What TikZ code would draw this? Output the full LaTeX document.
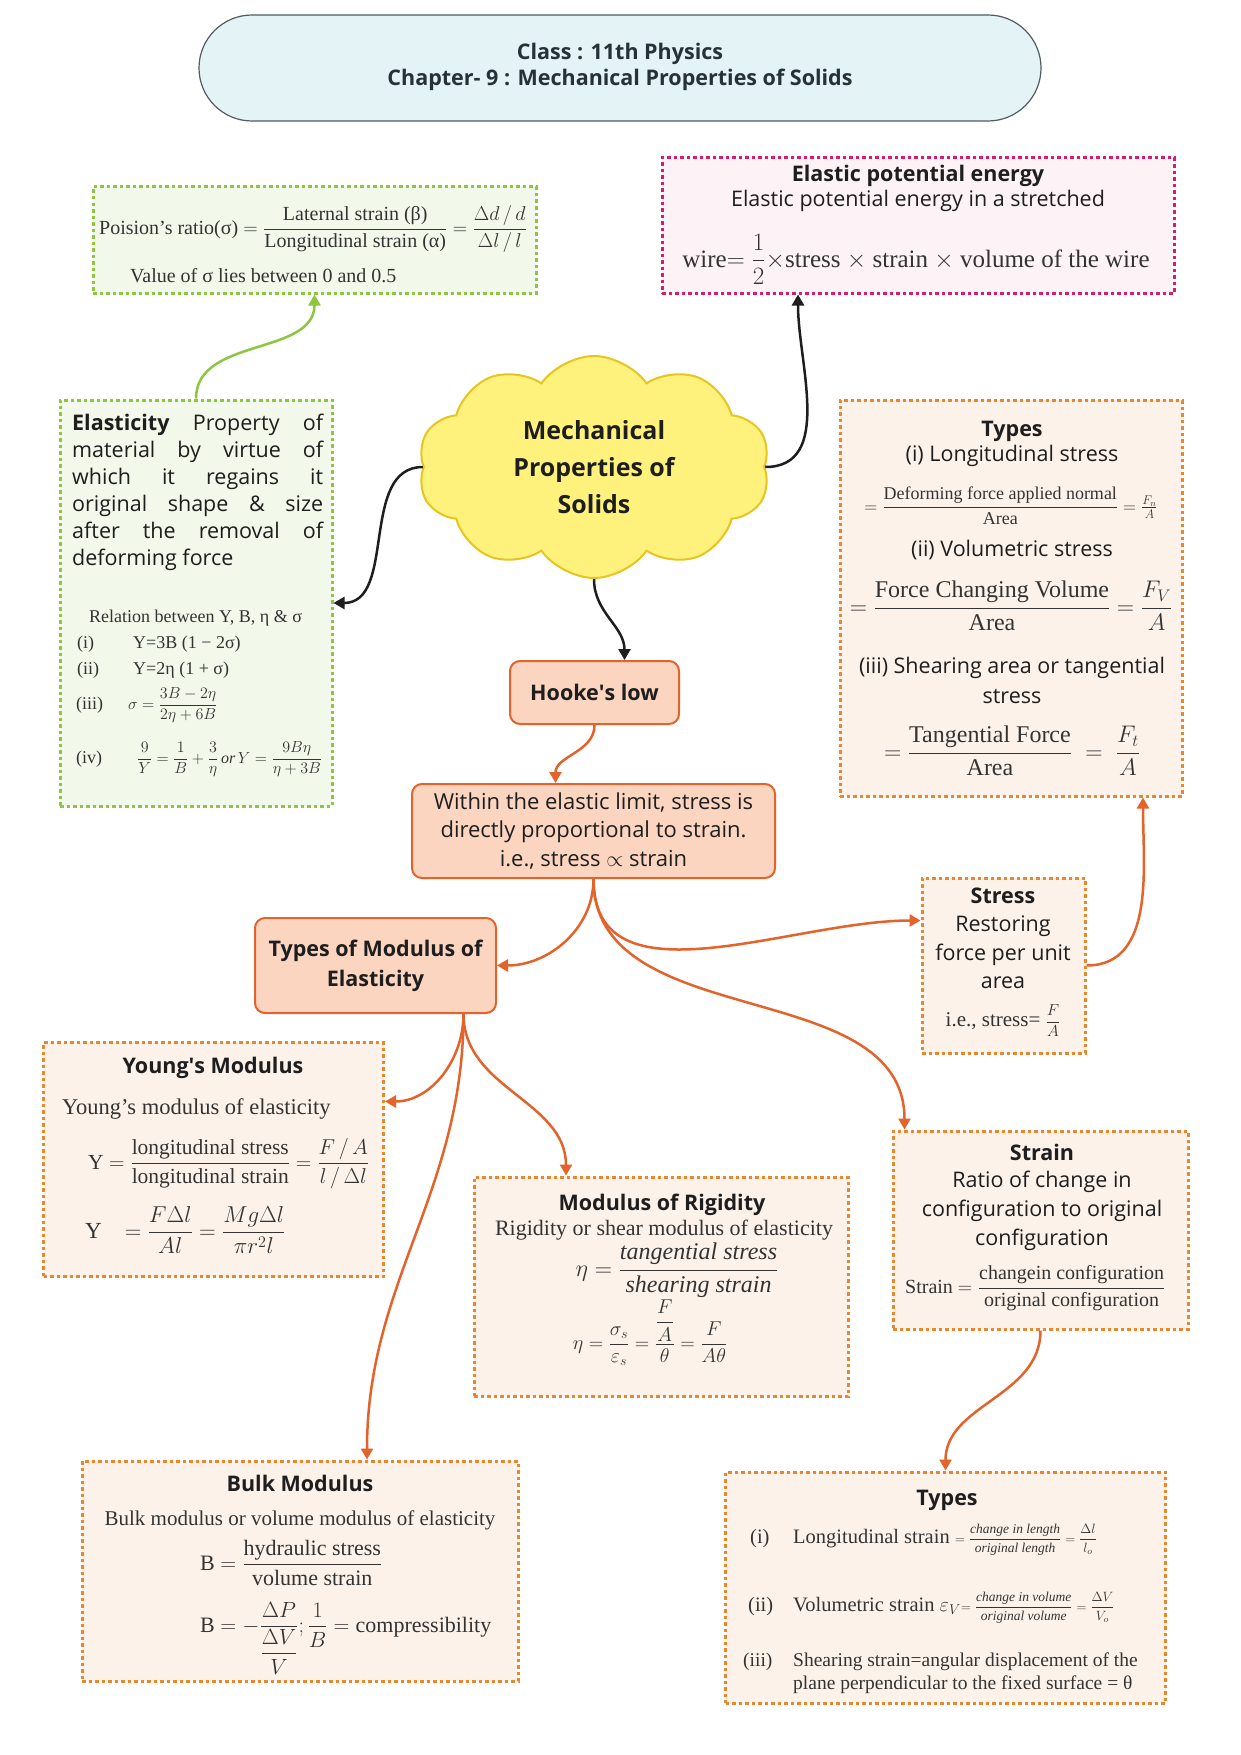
\RequirePackage{fix-cm}
\documentclass[tikz,border=0pt]{standalone}
\usepackage{amsmath}
\usepackage{fontspec}
\setmainfont{Liberation Serif}
\setsansfont{Open Sans}
\usetikzlibrary{shapes.symbols,arrows.meta}

\definecolor{linkorange}{HTML}{E4632A}
\definecolor{dotorange}{HTML}{E9862E}
\definecolor{peach}{HTML}{FDF2EA}
\definecolor{hookefill}{HTML}{FBD5C0}
\definecolor{leafgreen}{HTML}{8DC63F}
\definecolor{mintfill}{HTML}{F2F8EA}
\definecolor{rosered}{HTML}{D81B6A}
\definecolor{rosefill}{HTML}{FDF3F7}
\definecolor{cloudfill}{HTML}{FFF27C}
\definecolor{cloudline}{HTML}{E8C51E}
\definecolor{titlefill}{HTML}{E3F3F6}
\definecolor{titleink}{HTML}{263238}
\definecolor{inkdark}{HTML}{1E1E1E}

\tikzset{
  dotbox/.style={draw=dotorange, fill=peach, line width=3pt, dash pattern=on 3.5pt off 3pt, inner sep=0pt},
  greenbox/.style={dotbox, draw=leafgreen, fill=mintfill},
  rosebox/.style={dotbox, draw=rosered, fill=rosefill},
  hookebox/.style={draw=linkorange, fill=hookefill, line width=2pt, rounded corners=10pt, align=center, text=inkdark},
  head/.style={font=\sffamily\bfseries\fontsize{21.5}{27}\selectfont, anchor=base, inner sep=0pt, text=inkdark},
  body/.style={font=\sffamily\fontsize{21.5}{27}\selectfont, inner sep=0pt, text=inkdark},
  rmtext/.style={font=\rmfamily\fontsize{#1}{#1}\selectfont, inner sep=0pt, text=black!80},
  link/.style={line width=2.5pt, draw=linkorange, -{Triangle[length=11pt,width=12pt]}},
  blacklink/.style={link, draw=inkdark},
  greenlink/.style={link, draw=leafgreen}
}

\begin{document}
\begin{tikzpicture}[x=1pt,y=1pt]
  \path[fill=white] (0,0) rectangle (1241,-1755);
  \useasboundingbox (0,0) rectangle (1241,-1755);

  \node[draw=titleink!80, fill=titlefill, line width=1.2pt, rounded corners=53pt, minimum width=842pt, minimum height=106pt, align=center, text=titleink, font=\sffamily\bfseries\fontsize{21.5}{26}\selectfont] (title) at (620,-68) {Class : 11th Physics\\Chapter- 9 : Mechanical Properties of Solids\rule[-7pt]{0pt}{0pt}};

  \node[greenbox, minimum width=443pt, minimum height=106pt] (poisson) at (314.5,-240) {};
  \node[rmtext=20, anchor=base] (poissoneq) at (313,-234) {Poision's ratio(σ) $=\dfrac{\text{Laternal strain (β)}}{\text{Longitudinal strain (α)}}=\dfrac{\Delta d\,/\,d}{\Delta l\,/\,l}$};
  \node[rmtext=20, anchor=base west] (poissonval) at (130,-282) {Value of σ lies between 0 and 0.5};

  \node[rosebox, minimum width=512pt, minimum height=135pt] (epe) at (918,-225.5) {};
  \node[head] (epehead) at (918,-182) {Elastic potential energy};
  \node[body, anchor=base] (epetext) at (918,-207) {Elastic potential energy in a stretched};
  \node[rmtext=25, anchor=base] (epeeq) at (916,-267) {wire$=\dfrac{1}{2}\times$stress $\times$ strain $\times$ volume of the wire};

  \node[cloud, cloud puffs=10, cloud puff arc=110, aspect=1.6, draw=cloudline, fill=cloudfill, line width=2pt, inner sep=2pt, minimum width=352pt, minimum height=222pt, align=center, text=inkdark, font=\sffamily\bfseries\fontsize{25}{37}\selectfont] (core) at (594,-467) {Mechanical\\Properties of\\Solids};

  \node[greenbox, minimum width=272pt, minimum height=406pt] (elastic) at (196,-603) {};
  \node[body, anchor=north west, text width=251pt, align=justify] (elastictext) at (72,-414) {\textbf{Elasticity} Property of\linebreak material by virtue of\linebreak which it regains it\linebreak original shape \& size\linebreak after the removal of\linebreak deforming force};
  \node[rmtext=18, anchor=base west] (relhead) at (89,-622) {Relation between Y, B, η \& σ};
  \node[rmtext=18, anchor=base west] (reli) at (77,-648) {\makebox[56pt][l]{(i)}Y=3B (1 − 2σ)};
  \node[rmtext=18, anchor=base west] (relii) at (77,-674) {\makebox[56pt][l]{(ii)}Y=2η (1 + σ)};
  \node[rmtext=18, anchor=base west] (reliii) at (76,-709) {\makebox[52pt][l]{(iii)}{\fontsize{16}{16}\selectfont$\sigma=\dfrac{3B-2\eta}{2\eta+6B}$}};
  \node[rmtext=18, anchor=base west] (reliv) at (76,-763) {\makebox[61pt][l]{(iv)}{\fontsize{16}{16}\selectfont$\dfrac{9}{Y}=\dfrac{1}{B}+\dfrac{3}{\eta}\,\mathit{or}\,Y=\dfrac{9B\eta}{\eta+3B}$}};

  \node[dotbox, minimum width=342pt, minimum height=396pt] (stresstypes) at (1011,-598) {};
  \node[head] (stresshead) at (1012,-436) {Types};
  \node[body, anchor=base] (stressi) at (1012,-461) {(i) Longitudinal stress};
  \node[rmtext=18, anchor=base] (stressieq) at (1011,-512) {$=\dfrac{\text{Deforming force applied normal}}{\text{Area}}=\frac{F_n}{A}$};
  \node[body, anchor=base] (stressii) at (1012,-556) {(ii) Volumetric stress};
  \node[rmtext=24, anchor=base] (stressiieq) at (1011,-614) {$=\dfrac{\text{Force Changing Volume}}{\text{Area}}=\dfrac{F_V}{A}$};
  \node[body, anchor=north, align=center] (stressiii) at (1012,-657) {(iii) Shearing area or tangential\\[3pt]stress};
  \node[rmtext=24, anchor=base] (stressiiieq) at (1012,-759) {$=\dfrac{\text{Tangential Force}}{\text{Area}}\;=\;\dfrac{F_t}{A}$};

  \node[hookebox, minimum width=169pt, minimum height=63pt, font=\sffamily\bfseries\fontsize{21.5}{27}\selectfont] (hooke) at (594.5,-692.5) {Hooke\textquotesingle s low};
  \node[hookebox, minimum width=363pt, minimum height=94pt, font=\sffamily\fontsize{22}{28.5}\selectfont] (within) at (593.5,-831) {Within the elastic limit, stress is\\directly proportional to strain.\\i.e., stress $\propto$ strain};
  \node[hookebox, minimum width=241pt, minimum height=95pt, font=\sffamily\bfseries\fontsize{21.5}{30}\selectfont] (modtypes) at (375.5,-965.5) {Types of Modulus of\\Elasticity};

  \node[dotbox, minimum width=163pt, minimum height=175pt] (stress) at (1003.5,-965.5) {};
  \node[head] (stresstitle) at (1003,-903) {Stress};
  \node[body, anchor=north, align=center] (stresstext) at (1003,-916) {Restoring\\[1.5pt]force per unit\\[1.5pt]area};
  \node[rmtext=21, anchor=base] (stresseq) at (1003,-1026) {i.e., stress= {\fontsize{16}{16}\selectfont$\dfrac{F}{A}$}};

  \node[dotbox, minimum width=340pt, minimum height=234pt] (young) at (213.5,-1159.5) {};
  \node[head] (younghead) at (213,-1073) {Young\textquotesingle s Modulus};
  \node[rmtext=22.5, anchor=base west] (youngtext) at (62,-1114) {Young's modulus of elasticity};
  \node[rmtext=21.5, anchor=base west] (youngeq) at (88,-1169) {Y $=\dfrac{\text{longitudinal stress}}{\text{longitudinal strain}}=\dfrac{F\,/\,A}{l\,/\,\Delta l}$};
  \node[rmtext=23, anchor=base west] (youngeqb) at (85,-1238) {Y\quad$=\dfrac{F\Delta l}{Al}=\dfrac{Mg\Delta l}{\pi r^2 l}$};

  \node[dotbox, minimum width=374pt, minimum height=219pt] (rigidity) at (661,-1286.5) {};
  \node[head] (rigidhead) at (662,-1210) {Modulus of Rigidity};
  \node[rmtext=22, anchor=base] (rigidtext) at (664,-1235) {Rigidity or shear modulus of elasticity};
  \node[rmtext=24, anchor=base] (rigideq) at (677,-1276) {$\eta=\dfrac{\textit{tangential stress}}{\textit{shearing strain}}$};
  \node[rmtext=20, anchor=base] (rigideqb) at (650,-1349) {$\eta=\dfrac{\sigma_s}{\varepsilon_s}=\dfrac{\dfrac{F}{A}}{\theta}=\dfrac{F}{A\theta}$};

  \node[dotbox, minimum width=295pt, minimum height=198pt] (strain) at (1040.5,-1230) {};
  \node[head] (strainhead) at (1042,-1160) {Strain};
  \node[body, anchor=north, align=center] (straintext) at (1042,-1171) {Ratio of change in\\[2pt]configuration to original\\[2pt]configuration};
  \node[rmtext=20, anchor=base west] (straineq) at (905,-1293) {Strain $=\dfrac{\text{changein configuration}}{\text{original configuration}}$};

  \node[dotbox, minimum width=436pt, minimum height=220pt] (bulk) at (300,-1571) {};
  \node[head] (bulkhead) at (300,-1491) {Bulk Modulus};
  \node[rmtext=21, anchor=base] (bulktext) at (300,-1525) {Bulk modulus or volume modulus of elasticity};
  \node[rmtext=22, anchor=base west] (bulkeq) at (200,-1570) {B $=\dfrac{\text{hydraulic stress}}{\text{volume strain}}$};
  \node[rmtext=22, anchor=base west] (bulkeqb) at (200,-1632) {B $=-\dfrac{\Delta P}{\dfrac{\Delta V}{V}};\dfrac{1}{B}=\text{compressibility}$};

  \node[dotbox, minimum width=440pt, minimum height=231pt] (straintypes) at (945.5,-1587.5) {};
  \node[head] (sthead) at (947,-1505) {Types};
  \node[rmtext=20.5, anchor=base west] (sti) at (750,-1543) {\makebox[43pt][l]{(i)}Longitudinal strain {\fontsize{13.5}{14}\selectfont$=\dfrac{\textit{change in length}}{\textit{original length}}=\dfrac{\Delta l}{l_o}$}};
  \node[rmtext=20.5, anchor=base west] (stii) at (748,-1611) {\makebox[45pt][l]{(ii)}Volumetric strain $\varepsilon_V${\fontsize{13.5}{14}\selectfont$=\dfrac{\textit{change in volume}}{\textit{original volume}}=\dfrac{\Delta V}{V_o}$}};
  \node[rmtext=19.5, anchor=base west] (stiii) at (743,-1666) {\makebox[50pt][l]{(iii)}Shearing strain=angular displacement of the};
  \node[rmtext=19.5, anchor=base west] (stiiib) at (793,-1689) {plane perpendicular to the fixed surface = θ};

  \draw[greenlink] (elastic.north) to[out=90,in=-90] (poisson.south);
  \draw[blacklink] (core.west) to[out=180,in=0] (elastic.east);
  \draw[blacklink] (core.east) to[out=0,in=-90] ([xshift=-120pt]epe.south);
  \draw[blacklink] (core.south) to[out=-90,in=90] ([xshift=30pt]hooke.north);
  \draw[link] (hooke.south) to[out=-90,in=90] ([xshift=-38pt]within.north);
  \draw[link] (within.south) to[out=-90,in=0] (modtypes.east);
  \draw[link] (within.south) to[out=-90,in=180] ([yshift=45pt]stress.west);
  \draw[link] (within.south) to[out=-90,in=90] ([xshift=-136pt]strain.north);
  \draw[link] (stress.east) to[out=0,in=-90] ([xshift=132pt]stresstypes.south);
  \draw[link] ([xshift=88pt]modtypes.south) to[out=-90,in=0] ([yshift=58pt]young.east);
  \draw[link] ([xshift=88pt]modtypes.south) to[out=-90,in=90] ([xshift=-95pt]rigidity.north);
  \draw[link] ([xshift=88pt]modtypes.south) to[out=-90,in=90] ([xshift=67pt]bulk.north);
  \draw[link] (strain.south) to[out=-90,in=90] (straintypes.north);
\end{tikzpicture}
\end{document}
